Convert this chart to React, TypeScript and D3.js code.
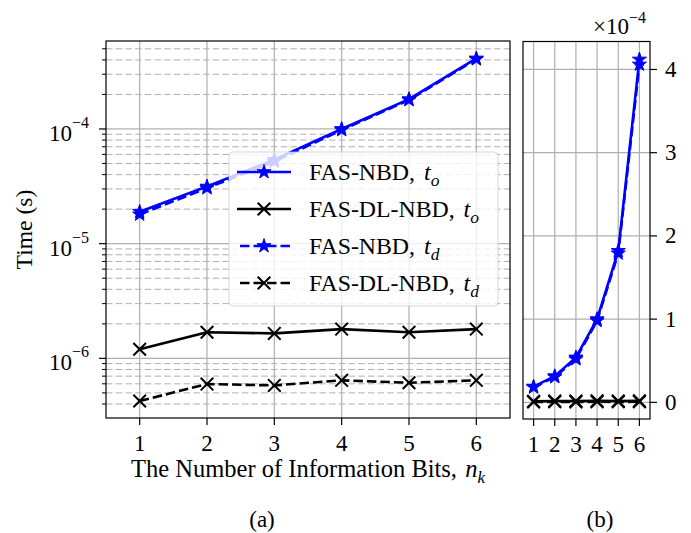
import React from 'react';
import * as d3 from 'd3';

const nk = [1, 2, 3, 4, 5, 6];
const fasNbdTo = [1.9e-5, 3.15e-5, 5.4e-5, 1.0e-4, 1.82e-4, 4.12e-4];
const fasDlNbdTo = [1.2e-6, 1.69e-6, 1.65e-6, 1.8e-6, 1.69e-6, 1.8e-6];
const fasNbdTd = [1.8e-5, 3.05e-5, 5.2e-5, 0.98e-4, 1.79e-4, 4.06e-4];
const fasDlNbdTd = [4.25e-7, 5.97e-7, 5.81e-7, 6.43e-7, 6.13e-7, 6.43e-7];
const logMajorExps = [-6, -5, -4];
const linTicks = [0, 1, 2, 3, 4];
const legendNames = ['FAS-NBD', 'FAS-DL-NBD', 'FAS-NBD', 'FAS-DL-NBD'];
const legendSubs = ['o', 'o', 'd', 'd'];

const FONT = '"Liberation Serif", "Times New Roman", serif';
const FS = 23;
const GRID = '#b0b0b0';

type Series = { vals: number[]; color: string; dashed: boolean; marker: 'star' | 'x' };
const series: Series[] = [
  { vals: fasNbdTo, color: '#0000ff', dashed: false, marker: 'star' },
  { vals: fasDlNbdTo, color: '#000000', dashed: false, marker: 'x' },
  { vals: fasNbdTd, color: '#0000ff', dashed: true, marker: 'star' },
  { vals: fasDlNbdTd, color: '#000000', dashed: true, marker: 'x' },
];

function starPath(R: number) {
  const r = R * 0.382;
  const pts: string[] = [];
  for (let i = 0; i < 10; i++) {
    const rad = i % 2 === 0 ? R : r;
    const a = -Math.PI / 2 + (i * Math.PI) / 5;
    pts.push(`${(rad * Math.cos(a)).toFixed(2)},${(rad * Math.sin(a)).toFixed(2)}`);
  }
  return 'M' + pts.join('L') + 'Z';
}
const STAR = starPath(7.4);

function Marker({ x, y, kind, color }: { x: number; y: number; kind: string; color: string }) {
  if (kind === 'star') {
    return <path d={STAR} transform={`translate(${x},${y})`} fill={color} stroke={color} strokeWidth={1} strokeLinejoin="miter" />;
  }
  const s = 6.3;
  return (
    <path d={`M${x - s},${y - s}L${x + s},${y + s}M${x - s},${y + s}L${x + s},${y - s}`} stroke={color} strokeWidth={2} fill="none" />
  );
}

export default function App() {
  // Panel (a)
  const ax = { l: 106, r: 510, t: 41, b: 418 };
  const xa = d3.scaleLinear().domain([0.5, 6.5]).range([ax.l, ax.r]);
  const ya = d3.scaleLog().domain([Math.pow(10, -6.52), Math.pow(10, -3.233)]).range([ax.b, ax.t]);
  // Panel (b)
  const bx = { l: 523, r: 650, t: 41.5, b: 419 };
  const xb = d3.scaleLinear().domain([0.5, 6.5]).range([bx.l, bx.r]);
  const yb = d3.scaleLinear().domain([-0.2e-4, 4.336e-4]).range([bx.b, bx.t]);

  const [ylo, yhi] = ya.domain();
  const minorTicks: number[] = [];
  for (let e = -7; e <= -3; e++) {
    for (let m = 2; m <= 9; m++) {
      const v = m * Math.pow(10, e);
      if (v >= ylo && v <= yhi) minorTicks.push(v);
    }
  }

  const lineA = (vals: number[]) =>
    d3.line<number>().x((_, i) => xa(nk[i])).y((d) => ya(d))(vals) as string;
  const lineB = (vals: number[]) =>
    d3.line<number>().x((_, i) => xb(nk[i])).y((d) => yb(d))(vals) as string;

  const leg = { x: 229, y: 152, w: 269, h: 154 };
  const rowY = (i: number) => leg.y + 20 + i * 37;

  return (
    <div style={{ position: 'absolute', left: 0, top: 0 }}>
      <svg width={691} height={533} style={{ display: 'block', background: '#fff' }} fontFamily={FONT}>
        <defs>
          <clipPath id="clipA">
            <rect x={ax.l} y={ax.t} width={ax.r - ax.l} height={ax.b - ax.t} />
          </clipPath>
          <clipPath id="clipB">
            <rect x={bx.l} y={bx.t} width={bx.r - bx.l} height={bx.b - bx.t} />
          </clipPath>
        </defs>

        {/* ===== Panel (a) ===== */}
        <g>
          {minorTicks.map((v, i) => (
            <line key={'mg' + i} x1={ax.l} x2={ax.r} y1={ya(v)} y2={ya(v)} stroke={GRID} strokeWidth={1} strokeDasharray="6.5,3.2" />
          ))}
          {logMajorExps.map((e) => (
            <line key={'Mg' + e} x1={ax.l} x2={ax.r} y1={ya(Math.pow(10, e))} y2={ya(Math.pow(10, e))} stroke={GRID} strokeWidth={1.2} />
          ))}
          {nk.map((n) => (
            <line key={'xg' + n} x1={xa(n)} x2={xa(n)} y1={ax.t} y2={ax.b} stroke={GRID} strokeWidth={1.2} />
          ))}
          <g clipPath="url(#clipA)">
            {series.map((s, si) => (
              <g key={'sa' + si}>
                <path d={lineA(s.vals)} fill="none" stroke={s.color} strokeWidth={2.6} strokeDasharray={s.dashed ? '9.5,4' : undefined} strokeLinejoin="round" />
                {s.vals.map((v, i) => (
                  <Marker key={i} x={xa(nk[i])} y={ya(v)} kind={s.marker} color={s.color} />
                ))}
              </g>
            ))}
          </g>
          <rect x={ax.l} y={ax.t} width={ax.r - ax.l} height={ax.b - ax.t} fill="none" stroke="#000" strokeWidth={1.2} />
          {/* ticks */}
          {minorTicks.map((v, i) => (
            <line key={'mt' + i} x1={ax.l - 4} x2={ax.l} y1={ya(v)} y2={ya(v)} stroke="#000" strokeWidth={1} />
          ))}
          {logMajorExps.map((e) => (
            <g key={'Mt' + e}>
              <line x1={ax.l - 7} x2={ax.l} y1={ya(Math.pow(10, e))} y2={ya(Math.pow(10, e))} stroke="#000" strokeWidth={1.2} />
              <text x={ax.l - 17} y={ya(Math.pow(10, e)) + 12} textAnchor="end" fontSize={FS} fill="#000">
                <tspan>10</tspan>
                <tspan dx={0} dy={-13} fontSize={16}>{'\u2212' + Math.abs(e)}</tspan>
              </text>
            </g>
          ))}
          {nk.map((n) => (
            <g key={'xt' + n}>
              <line x1={xa(n)} x2={xa(n)} y1={ax.b} y2={ax.b + 7} stroke="#000" strokeWidth={1.2} />
              <text x={xa(n)} y={451} textAnchor="middle" fontSize={FS} fill="#000">{n}</text>
            </g>
          ))}
          <text transform={`translate(31.5,${(ax.t + ax.b) / 2}) rotate(-90)`} textAnchor="middle" fontSize={23.6} fill="#000">Time (s)</text>
          <text x={308} y={477} textAnchor="middle" fontSize={24.5} fill="#000">
            The Number of Information Bits, <tspan fontStyle="italic" dx={2}>n</tspan>
            <tspan fontStyle="italic" fontSize={17} dy={6}>k</tspan>
          </text>
          <text x={262} y={527} textAnchor="middle" fontSize={FS} fill="#000">(a)</text>

          {/* legend */}
          <rect x={leg.x} y={leg.y} width={leg.w} height={leg.h} rx={4} fill="#fff" fillOpacity={0.8} stroke="#cccccc" strokeOpacity={0.8} strokeWidth={1} />
          {series.map((s, i) => {
            const y = rowY(i);
            return (
              <g key={'lg' + i}>
                <line x1={237} x2={291} y1={y} y2={y} stroke={s.color} strokeWidth={2.6} strokeDasharray={s.dashed ? '9.5,4' : undefined} strokeDashoffset={s.dashed ? -3 : 0} />
                <Marker x={264} y={y} kind={s.marker} color={s.color} />
                <text x={309} y={y + 8} fontSize={23.8} fill="#000">
                  {legendNames[i] + ', '}
                  <tspan fontStyle="italic" dx={3} fontSize={24}>t</tspan>
                  <tspan fontStyle="italic" fontSize={17.5} dy={6}>{legendSubs[i]}</tspan>
                </text>
              </g>
            );
          })}
        </g>

        {/* ===== Panel (b) ===== */}
        <g>
          {linTicks.map((t) => (
            <line key={'bg' + t} x1={bx.l} x2={bx.r} y1={yb(t * 1e-4)} y2={yb(t * 1e-4)} stroke={GRID} strokeWidth={1.2} />
          ))}
          {nk.map((n) => (
            <line key={'bxg' + n} x1={xb(n)} x2={xb(n)} y1={bx.t} y2={bx.b} stroke={GRID} strokeWidth={1.2} />
          ))}
          <g clipPath="url(#clipB)">
            {series.map((s, si) => (
              <g key={'sb' + si}>
                <path d={lineB(s.vals)} fill="none" stroke={s.color} strokeWidth={2.6} strokeDasharray={s.dashed ? '9.5,4' : undefined} strokeLinejoin="round" />
              </g>
            ))}
          </g>
          {series.map((s, si) => (
            <g key={'mb' + si}>
              {s.vals.map((v, i) => (
                <Marker key={i} x={xb(nk[i])} y={yb(v)} kind={s.marker} color={s.color} />
              ))}
            </g>
          ))}
          <rect x={bx.l} y={bx.t} width={bx.r - bx.l} height={bx.b - bx.t} fill="none" stroke="#000" strokeWidth={1.2} />
          {linTicks.map((t) => (
            <g key={'byt' + t}>
              <line x1={bx.r} x2={bx.r + 7} y1={yb(t * 1e-4)} y2={yb(t * 1e-4)} stroke="#000" strokeWidth={1.2} />
              <text x={bx.r + 15} y={yb(t * 1e-4) + 7.5} fontSize={FS} fill="#000">{t}</text>
            </g>
          ))}
          {nk.map((n) => (
            <g key={'bxt' + n}>
              <line x1={xb(n)} x2={xb(n)} y1={bx.b} y2={bx.b + 7} stroke="#000" strokeWidth={1.2} />
              <text x={xb(n)} y={452} textAnchor="middle" fontSize={FS} fill="#000">{n}</text>
            </g>
          ))}
          <text x={646} y={34} textAnchor="end" fontSize={FS} fill="#000">
            <tspan>{'\u00d710'}</tspan>
            <tspan fontSize={16} dy={-11}>{'\u22124'}</tspan>
          </text>
          <text x={600} y={527} textAnchor="middle" fontSize={FS} fill="#000">(b)</text>
        </g>
      </svg>
    </div>
  );
}
